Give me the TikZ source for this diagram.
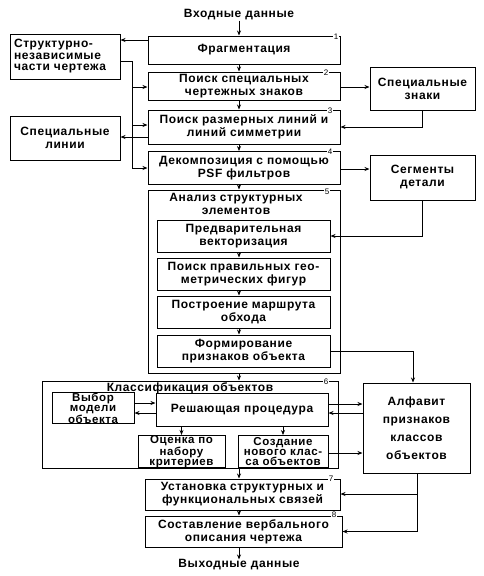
\documentclass[tikz,border=0pt]{standalone}
\usepackage{fontspec}
\setmainfont{Liberation Sans}[LetterSpace=5]
\usetikzlibrary{arrows.meta}
\begin{document}
\begin{tikzpicture}[x=1pt,y=-1pt,
  every node/.style={font=\fontsize{12}{13}\selectfont\bfseries},
  box/.style={draw, line width=1pt, align=center, inner sep=0pt},
  lbox/.style={draw, line width=1pt, align=left, inner sep=0pt},
  tight/.style={font=\fontsize{11.5}{10}\selectfont\bfseries},
  txt/.style={inner sep=0pt, align=center},
  arr/.style={-{Stealth[length=5pt,width=4pt]}, line width=0.8pt},
  ln/.style={line width=0.8pt},
  num/.style={font=\fontsize{8}{8}\selectfont, inner sep=1pt, fill=white}
]
\useasboundingbox (0,0) rectangle (484,576);

% main column
\node[txt] (in) at (239,15) {Входные данные};
\node[box, minimum width=192pt, minimum height=28pt] (b1) at (244,50) {Фрагментация};
\node[box, minimum width=192pt, minimum height=28pt] (b2) at (244,86) {Поиск специальных\\чертежных знаков};
\node[box, minimum width=192pt, minimum height=34pt] (b3) at (244,127) {Поиск размерных линий и\\линий симметрии};
\node[box, minimum width=192pt, minimum height=33pt] (b4) at (244,168) {Декомпозиция с помощью\\PSF фильтров};
\node[box, minimum width=192pt, minimum height=183pt] (b5) at (244,281.5) {};
\node[txt] (t5) at (236,204) {Анализ структурных\\элементов};
\node[box, minimum width=173pt, minimum height=32pt] (v1) at (243.5,236) {Предварительная\\векторизация};
\node[box, minimum width=173pt, minimum height=32pt] (v2) at (243.5,274) {Поиск правильных гео-\\метрических фигур};
\node[box, minimum width=173pt, minimum height=32pt] (v3) at (243.5,312) {Построение маршрута\\обхода};
\node[box, minimum width=173pt, minimum height=32pt] (v4) at (243.5,351) {Формирование\\признаков объекта};

\node[box, minimum width=296pt, minimum height=87pt] (b6) at (190,424.5) {};
\node[txt] (t6) at (190,388) {Классификация объектов};
\node[box, tight, minimum width=82pt, minimum height=31pt] (vm) at (93,408) {Выбор\\модели\\объекта};
\node[box, minimum width=172pt, minimum height=33pt] (rp) at (242,409.5) {Решающая процедура};
\node[box, tight, minimum width=87pt, minimum height=32pt] (oc) at (181.5,451.5) {Оценка по\\набору\\критериев};
\node[box, tight, minimum width=90pt, minimum height=32pt] (sk) at (283,451.5) {Создание\\нового клас-\\са объектов};

\node[box, minimum width=195pt, minimum height=31pt] (b7) at (242.5,494.5) {Установка структурных и\\функциональных связей};
\node[box, minimum width=197pt, minimum height=31pt] (b8) at (243.5,531.5) {Составление вербального\\описания чертежа};
\node[txt] (out) at (239,565) {Выходные данные};

% numbers
\node[num] at (336,37) {1};
\node[num] at (326,73) {2};
\node[num] at (330,111) {3};
\node[num] at (330,152) {4};
\node[num] at (327,192) {5};
\node[num] at (326,382) {6};
\node[num] at (331,479) {7};
\node[num] at (334,515) {8};

% side boxes
\node[lbox, font=\fontsize{12}{11.5}\selectfont\bfseries, minimum width=110pt, minimum height=45pt, text width=102pt] (sn) at (65,56.5) {Структурно-\\независимые\\части чертежа};
\node[box, minimum width=110pt, minimum height=44pt] (sl) at (65,138) {Специальные\\линии};
\node[box, minimum width=105pt, minimum height=43pt] (sz) at (422.5,88.5) {Специальные\\знаки};
\node[box, minimum width=105pt, minimum height=45pt] (sd) at (422.5,177.5) {Сегменты\\детали};
\node[box, font=\fontsize{12}{18}\selectfont\bfseries, minimum width=107pt, minimum height=90pt] (al) at (416.5,428)
  {Алфавит\\признаков\\классов\\объектов};

% vertical flow
\coordinate (ax) at (239,0);
\draw[arr] (in.south) -- (b1.north -| ax);
\draw[arr] (b1.south -| ax) -- (b2.north -| ax);
\draw[arr] (b2.south -| ax) -- (b3.north -| ax);
\draw[arr] (b3.south -| ax) -- (b4.north -| ax);
\draw[arr] (b4.south -| ax) -- (b5.north -| ax);
\draw[arr] (v1.south -| ax) -- (v2.north -| ax);
\draw[arr] (v2.south -| ax) -- (v3.north -| ax);
\draw[arr] (v3.south -| ax) -- (v4.north -| ax);
\draw[arr] (b5.south -| ax) -- (b6.north -| ax);
\draw[arr] (b6.south -| ax) -- (b7.north -| ax);
\draw[arr] (b7.south -| ax) -- (b8.north -| ax);
\draw[arr] (b8.south -| ax) -- (out.north);

% left connections
\coordinate (bus) at (132,0);
\draw[arr] (b1.west |- 0,40) -- (sn.east |- 0,40);
\draw[ln] (sn.east |- 0,61) -| (bus |- 0,168);
\draw[arr] (bus |- 0,87) -- (b2.west |- 0,87);
\draw[arr] (bus |- 0,125) -- (b3.west |- 0,125);
\draw[arr] (b3.west |- 0,137) -- (sl.east |- 0,137);
\draw[arr] (bus |- 0,168) -- (b4.west |- 0,168);

% right connections
\draw[arr] (b2.east |- 0,87) -- (sz.west |- 0,87);
\draw[arr] (sz.south) |- (b3.east);
\draw[arr] (b4.east |- 0,169) -- (sd.west |- 0,169);
\draw[arr] (sd.south) |- (v1.east);
\draw[arr] (v4.east) -| (al.north -| 413,0);
\draw[arr] (rp.east |- 0,404) -- (al.west |- 0,404);
\draw[arr] (al.west |- 0,413) -- (rp.east |- 0,413);
\draw[arr] (sk.east |- 0,453) -- (al.west |- 0,453);
\draw[arr] (al.south -| 417,0) |- (b8.east);
\draw[arr] (417,494) -- (b7.east |- 0,494);

% inside classification
\draw[arr] (vm.east |- 0,403) -- (rp.west |- 0,403);
\draw[arr] (rp.west |- 0,413) -- (vm.east |- 0,413);
\draw[arr] (rp.south -| oc.north) -- (oc.north);
\draw[arr] (rp.south -| sk.north) -- (sk.north);
\end{tikzpicture}
\end{document}
